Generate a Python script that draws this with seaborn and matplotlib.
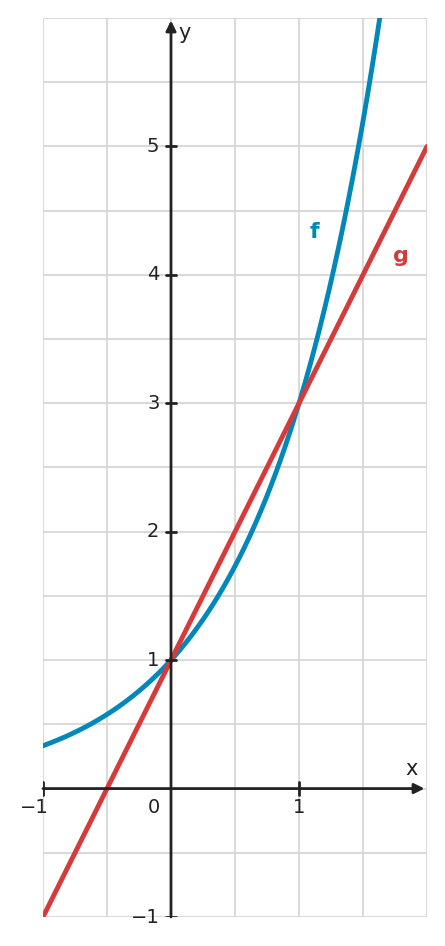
import numpy as np
import matplotlib
matplotlib.use("Agg")
import matplotlib.pyplot as plt
import seaborn as sns

sns.set_theme(style="white")
plt.rcParams['font.family'] = ['DejaVu Sans']

f_base = 3.0          # f(x) = 3^x
g_slope, g_icpt = 2.0, 1.0   # g(x) = 2x + 1
x_ticks = [-1, 1]
y_ticks = [-1, 1, 2, 3, 4, 5]

xs = np.linspace(-1, 2, 400)
fy = f_base ** xs
gy = g_slope * xs + g_icpt

W, H = 445, 946
fig = plt.figure(figsize=(W/100, H/100), dpi=100)
ax = fig.add_axes([43/W, 1-917/H, (427-43)/W, (917-18)/H])
ax.set_xlim(-1, 2)
ax.set_ylim(-1, 6)
for v in np.arange(-1, 2.01, 0.5):
    ax.axvline(v, color="#d3d3d3", lw=1.2, zorder=0)
for v in np.arange(-1, 6.01, 0.5):
    ax.axhline(v, color="#d3d3d3", lw=1.2, zorder=0)
for s in ax.spines.values():
    s.set_visible(False)
ax.set_xticks([]); ax.set_yticks([])

sns.lineplot(x=xs, y=fy, ax=ax, color="#0088bb", lw=3.5, zorder=3)
sns.lineplot(x=xs, y=gy, ax=ax, color="#d63b3b", lw=3.5, zorder=4)

ak = dict(arrowstyle="-|>,head_width=0.25,head_length=0.5", color="#222222", lw=2, shrinkA=0, shrinkB=0)
ax.annotate("", xy=(1.98, 0), xytext=(-1, 0), arrowprops=ak, zorder=5, annotation_clip=False)
ax.annotate("", xy=(0, 5.98), xytext=(0, -1), arrowprops=ak, zorder=5, annotation_clip=False)
for t in x_ticks:
    ax.plot([t, t], [-0.05, 0.05], color="#222222", lw=2, zorder=5)
    ax.text(t - (0.07 if t < 0 else 0), -0.15, "−1" if t < 0 else str(t), ha="center", va="center", fontsize=14, color="#222222")
for t in y_ticks:
    ax.plot([-0.04, 0.04], [t, t], color="#222222", lw=2, zorder=5)
    ax.text(-0.09, t, "−1" if t < 0 else str(t), ha="right", va="center", fontsize=14, color="#222222")
ax.text(-0.13, -0.15, "0", ha="center", va="center", fontsize=14, color="#222222")
ax.text(1.88, 0.15, "x", ha="center", va="center", fontsize=15, color="#222222")
ax.text(0.11, 5.88, "y", ha="center", va="center", fontsize=15, color="#222222")
ax.text(1.12, 4.33, "f", ha="center", va="center", fontsize=16, fontweight="bold", color="#0088bb")
ax.text(1.8, 4.15, "g", ha="center", va="center", fontsize=16, fontweight="bold", color="#d63b3b")

fig.savefig("out.png", dpi=100)
